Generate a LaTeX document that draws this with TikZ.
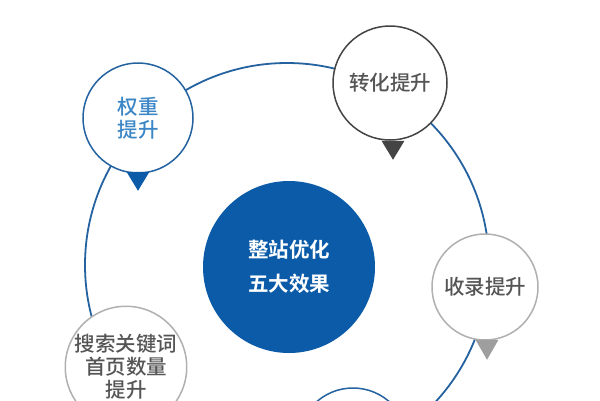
\documentclass[tikz,border=0pt]{standalone}
\usepackage{fontspec}
\newfontfamily\cjk{Noto Sans CJK SC Medium}
\newfontfamily\cjkb{Noto Sans CJK SC Bold}
\definecolor{ringblue}{HTML}{2462A0}
\definecolor{coreblue}{HTML}{0B5BA8}
\definecolor{txtblue}{HTML}{3A86C6}
\definecolor{darkgr}{HTML}{444444}
\definecolor{lightgr}{HTML}{B0B0B0}
\definecolor{txtgr}{HTML}{555555}
\tikzset{
  bubble/.style={circle, fill=white, line width=1.5pt, inner sep=0pt, align=center,
    font=\cjk\fontsize{20.5}{23}\selectfont, text=txtgr},
}
\begin{document}
\begin{tikzpicture}[x=1pt,y=-1pt]
\useasboundingbox (0,0) rectangle (600,400);
\clip (0,0) rectangle (600,400);
\fill[white] (0,0) rectangle (600,400);
\coordinate (c) at (287,265);
\draw[ringblue, line width=1.8pt] (c) circle[radius=202];
\node[circle, fill=coreblue, minimum size=172pt, inner sep=0pt, align=center, text=white,
  font=\cjkb\fontsize{20.5}{34}\selectfont] (core) at (289,267) {整站优化\\五大效果};
\node[bubble, draw=ringblue, text=txtblue, minimum size=110pt] (w) at (138,118) {权重\\提升};
\node[bubble, draw=darkgr, minimum size=114pt] (z) at (390,83) {转化提升};
\node[bubble, draw=lightgr, minimum size=106pt] (s) at (485,287) {收录提升};
\node[bubble, draw=lightgr, minimum size=118pt] (k) at (126,367) {搜索关键词\\首页数量\\提升};
\node[bubble, draw=ringblue, minimum size=110pt] (b) at (353,443) {};
\fill[coreblue] ([xshift=-11.5pt,yshift=2pt]w.south) -- ([xshift=11.5pt,yshift=2pt]w.south) -- ([yshift=-17pt]w.south) -- cycle;
\fill[darkgr] ([xshift=-8.5pt,yshift=0pt]z.south) -- ([xshift=14.5pt,yshift=0pt]z.south) -- ([xshift=3pt,yshift=-19pt]z.south) -- cycle;
\fill[lightgr!90!black] ([xshift=-9.5pt,yshift=1pt]s.south) -- ([xshift=13.5pt,yshift=1pt]s.south) -- ([xshift=2pt,yshift=-19pt]s.south) -- cycle;
\end{tikzpicture}
\end{document}
